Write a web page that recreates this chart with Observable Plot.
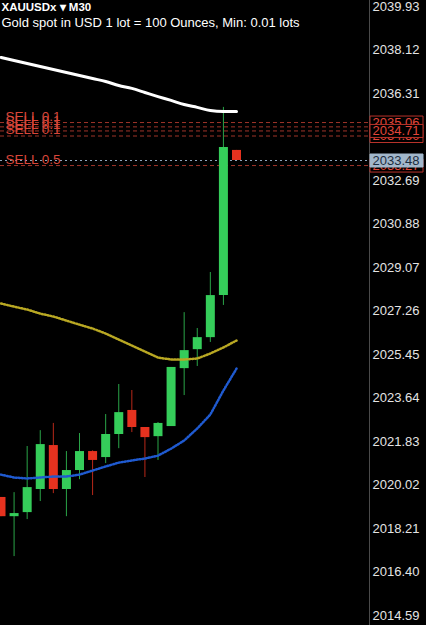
<!DOCTYPE html>
<html><head><meta charset="utf-8">
<script src="https://cdn.jsdelivr.net/npm/d3@7"></script>
<script src="https://cdn.jsdelivr.net/npm/@observablehq/plot@0.6"></script>
<style>
html,body{margin:0;padding:0;background:#000;}
#chart{width:426px;height:625px;overflow:hidden;}
</style></head><body><div id="chart"></div>
<script>
// ---- data ----
const symbolTitle = "XAUUSDx ▾ M30";
const subtitle = "Gold spot in USD 1 lot = 100 Ounces, Min: 0.01 lots";

const opens  = [2019.46,2018.66,2018.83,2019.79,2021.62,2019.79,2020.58,2021.37,2021.12,2022.08,2023.08,2022.37,2021.99,2022.41,2024.82,2025.61,2026.11,2027.86,2033.90];
const highs  = [2019.46,2019.66,2021.58,2022.24,2022.54,2021.37,2022.12,2021.40,2022.91,2024.16,2023.91,2022.37,2022.58,2024.87,2027.15,2026.49,2028.82,2035.69,2033.90];
const lows   = [2018.66,2017.00,2018.54,2019.29,2019.62,2018.66,2020.20,2019.54,2020.87,2021.49,2022.16,2020.29,2021.00,2022.41,2023.70,2024.91,2025.91,2027.45,2033.48];
const closes = [2018.66,2018.79,2019.87,2021.66,2019.79,2020.58,2021.37,2021.00,2022.08,2022.99,2022.37,2021.95,2022.54,2024.87,2025.57,2026.11,2027.86,2034.02,2033.48];

const maWhite  = [2037.77,2037.64,2037.52,2037.39,2037.27,2037.14,2037.02,2036.89,2036.77,2036.60,2036.48,2036.31,2036.14,2035.98,2035.81,2035.69,2035.56,2035.52,2035.52];
const maYellow = [2027.53,2027.40,2027.28,2027.11,2026.99,2026.82,2026.65,2026.49,2026.28,2026.03,2025.78,2025.53,2025.28,2025.20,2025.20,2025.24,2025.45,2025.70,2025.99];
const maBlue   = [2020.41,2020.29,2020.25,2020.29,2020.33,2020.33,2020.41,2020.58,2020.75,2020.91,2021.00,2021.08,2021.20,2021.49,2021.83,2022.33,2022.91,2023.91,2024.82];

const tickValues = [2039.93,2038.12,2036.31,2032.69,2030.88,2029.07,2027.26,2025.45,2023.64,2021.83,2020.02,2018.21,2016.40,2014.59];

const orderPrices = [2035.06,2034.88,2034.71,2034.50,2033.27];
const orderLabels = ["SELL 0.1","SELL 0.1","SELL 0.1","SELL 0.1","SELL 0.5"];
const backTagPrices = [2035.06,2034.50,2033.27];
const frontTagPrices = [2034.71];
const currentPrice = 2033.48;

// ---- build ----
const candles = opens.map((o,i)=>({i, open:o, high:highs[i], low:lows[i], close:closes[i]}));
const orders = orderPrices.map((p,i)=>({price:p, label:orderLabels[i]}));
const GREEN = "#35cd5a", RED = "#e6321f";
const candleColor = d => d.close >= d.open ? GREEN : RED;
const idx = d3.range(opens.length);

const boxSymbol = {draw(ctx){ ctx.moveTo(-26.5,-6.5); ctx.lineTo(26.5,-6.5); ctx.lineTo(26.5,6.5); ctx.lineTo(-26.5,6.5); ctx.closePath(); }};
const tagMarks = (prices, opts) => [
  Plot.dot(prices, {y: d=>d, frameAnchor:"right", dx:27, symbol: boxSymbol, fill: opts.fill, stroke: opts.stroke, strokeWidth:1}),
  Plot.text(prices, {y: d=>d, text: d=>d.toFixed(2), frameAnchor:"right", textAnchor:"start", dx:3, fill: opts.text, fontSize:13})
];

const chart = Plot.plot({
  width: 426, height: 625,
  marginTop: 0, marginBottom: 0, marginLeft: 0, marginRight: 57,
  style: {background:"#000", fontFamily:"'Liberation Sans', Arial, sans-serif", overflow:"hidden"},
  x: {domain:[0,18], range:[0.5,236], axis:null},
  y: {domain:[2014.59,2039.93], range:[614,5], axis:null},
  marks: [
    Plot.frame({anchor:"right", stroke:"#4a4a4a"}),
    Plot.ruleY(orders, {y:"price", stroke:"#b03a2e", strokeOpacity:0.9, strokeDasharray:"4,3"}),
    Plot.ruleY([currentPrice], {y:d=>d, stroke:"#8ea4ba", strokeDasharray:"2,3"}),
    Plot.ruleX(candles, {x:"i", y1:"low", y2:"high", stroke:candleColor, strokeOpacity:0.8, strokeWidth:1}),
    Plot.ruleX(candles, {x:"i", y1:"open", y2:d=>Math.abs(d.close-d.open)<0.1 ? d.open+0.1 : d.close, stroke:candleColor, strokeWidth:9}),
    Plot.line(idx, {x:d=>d, y:d=>maYellow[d], stroke:"#b9a823", strokeWidth:2.5, strokeDasharray:"1.2,1.8"}),
    Plot.line(idx, {x:d=>d, y:d=>maBlue[d], stroke:"#1f5ad0", strokeWidth:2.5, strokeDasharray:"1.2,1.8"}),
    Plot.line(idx, {x:d=>d, y:d=>maWhite[d], stroke:"#ffffff", strokeWidth:3, curve:"monotone-x"}),
    Plot.text(orders, {y:"price", text:"label", frameAnchor:"left", textAnchor:"start", lineAnchor:"bottom", dx:5, dy:-2, fill:"#d9463a", fontSize:13.5}),
    Plot.axisY(tickValues, {anchor:"right", tickSize:0, tickPadding:3, dy:1, tickFormat:d=>d.toFixed(2), fill:"#e4e4e4", fontSize:13}),
    ...tagMarks(backTagPrices, {fill:"#000", stroke:"#b8322a", text:"#e2463a"}),
    ...tagMarks(frontTagPrices, {fill:"#000", stroke:"#b8322a", text:"#e2463a"}),
    ...tagMarks([currentPrice], {fill:"#a2b7cb", stroke:"#a2b7cb", text:"#1c2c3e"}),
    Plot.text([symbolTitle], {text:d=>d, frameAnchor:"top-left", textAnchor:"start", lineAnchor:"top", dx:1, dy:2, fill:"#fff", fontSize:11.5, fontWeight:600}),
    Plot.text([subtitle], {text:d=>d, frameAnchor:"top-left", textAnchor:"start", lineAnchor:"top", dx:1, dy:17, fill:"#fff", fontSize:13})
  ]
});
document.getElementById("chart").appendChild(chart);
</script></body></html>
